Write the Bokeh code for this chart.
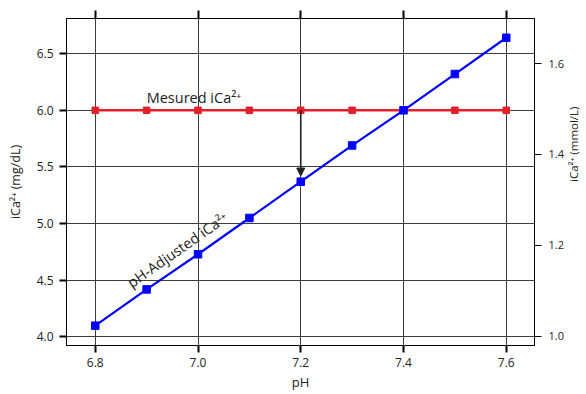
import math
from bokeh.plotting import figure
from bokeh.models import (LinearAxis, Range1d, FixedTicker, Arrow, NormalHead, Label,
                          PrintfTickFormatter, CustomJSTickFormatter)
from bokeh.embed import file_html
from bokeh.resources import INLINE

# ---- data ----
ph = [6.8, 6.9, 7.0, 7.1, 7.2, 7.3, 7.4, 7.5, 7.6]
measured = [6.0, 6.0, 6.0, 6.0, 6.0, 6.0, 6.0, 6.0, 6.0]
adjusted = [4.10, 4.42, 4.73, 5.05, 5.37, 5.69, 6.00, 6.32, 6.64]
x_ticks = [6.8, 7.0, 7.2, 7.4, 7.6]
left_ticks = [4.0, 4.5, 5.0, 5.5, 6.0, 6.5]
right_ticks = [1.0, 1.2, 1.4, 1.6]
MG_PER_MMOL = 4.008
y_lo, y_hi = 3.925, 6.81

FONT = "Open Sans"
TXT = "#222222"

p = figure(frame_width=468, frame_height=327,
           x_range=Range1d(6.744, 7.655), y_range=Range1d(y_lo, y_hi),
           output_backend="svg", toolbar_location=None,
           min_border_left=66, min_border_right=52,
           min_border_top=18, min_border_bottom=49)
p.extra_y_ranges = {"mmol": Range1d(y_lo / MG_PER_MMOL, y_hi / MG_PER_MMOL)}

p.outline_line_color = "black"
p.outline_line_width = 1
p.background_fill_color = "white"
p.border_fill_color = "white"

# grid
p.xgrid.ticker = FixedTicker(ticks=x_ticks)
p.ygrid.ticker = FixedTicker(ticks=left_ticks)
for g in (p.xgrid, p.ygrid):
    g.grid_line_color = "#3c3c3c"
    g.grid_line_width = 1
    g.grid_line_alpha = 1

fmt = PrintfTickFormatter(format="%.1f")

# bottom axis
xa = p.xaxis[0]
xa.ticker = FixedTicker(ticks=x_ticks)
xa.formatter = fmt
xa.axis_label = "pH"

# left axis
ya = p.yaxis[0]
ya.ticker = FixedTicker(ticks=left_ticks)
ya.formatter = fmt
ya.axis_label = "iCa²⁺ (mg/dL)"

# top axis (ticks only)
top = LinearAxis(ticker=FixedTicker(ticks=x_ticks),
                 formatter=CustomJSTickFormatter(code="return ''"),
                 major_label_standoff=0)
p.add_layout(top, "above")

# right axis
ra = LinearAxis(y_range_name="mmol", ticker=FixedTicker(ticks=right_ticks),
                formatter=fmt, axis_label="iCa²⁺ (mmol/L)")
p.add_layout(ra, "right")

for ax in (xa, ya, top, ra):
    ax.axis_line_color = "black"
    ax.axis_line_width = 1
    ax.major_tick_in = 0
    ax.major_tick_out = 7
    ax.major_tick_line_width = 2
    ax.major_tick_line_color = "black"
    ax.minor_tick_line_color = None
    ax.major_label_text_font = FONT
    ax.major_label_text_color = TXT
    ax.axis_label_text_font = FONT
    ax.axis_label_text_font_style = "normal"
    ax.axis_label_text_color = TXT
    ax.axis_label_text_font_size = "12.5px"

xa.major_label_text_font_size = "12px"
ya.major_label_text_font_size = "12px"
ra.major_label_text_font_size = "11px"
xa.axis_label_text_font_size = "13px"
ra.axis_label_text_font_size = "11.5px"
ra.major_tick_line_width = 1
ra.major_tick_out = 7
top.major_tick_out = 8
xa.major_label_standoff = 5
ya.major_label_standoff = 6
ra.major_label_standoff = 7
xa.axis_label_standoff = 3
ya.axis_label_standoff = 10
ra.axis_label_standoff = 7
try:
    ra.axis_label_orientation = math.pi / 2
except Exception:
    pass

# series
p.line(ph, measured, line_color="#e3202a", line_width=2.6)
p.scatter(ph, measured, marker="square", size=6.5, fill_color="#e3202a", line_color="#e3202a")
p.line(ph, adjusted, line_color="#0000ff", line_width=2.2)
p.scatter(ph, adjusted, marker="square", size=7.5, fill_color="#0000ff", line_color="#0000ff")

# arrow
p.add_layout(Arrow(x_start=7.2, y_start=6.0, x_end=7.2, y_end=5.42,
                   line_color="#222222", line_width=1.6,
                   end=NormalHead(size=8, fill_color="#222222", line_color="#222222")))

# labels
p.add_layout(Label(x=6.9, y=6.03, text="Mesured iCa²⁺", text_font=FONT,
                   text_font_size="14.5px", text_color=TXT, text_baseline="bottom"))
p.add_layout(Label(x=6.876, y=4.40, text="pH-Adjusted iCa²⁺", text_font=FONT,
                   text_font_size="14.5px", text_color=TXT, angle=35, angle_units="deg",
                   text_baseline="bottom"))

open("out.html", "w").write(file_html(p, INLINE))
